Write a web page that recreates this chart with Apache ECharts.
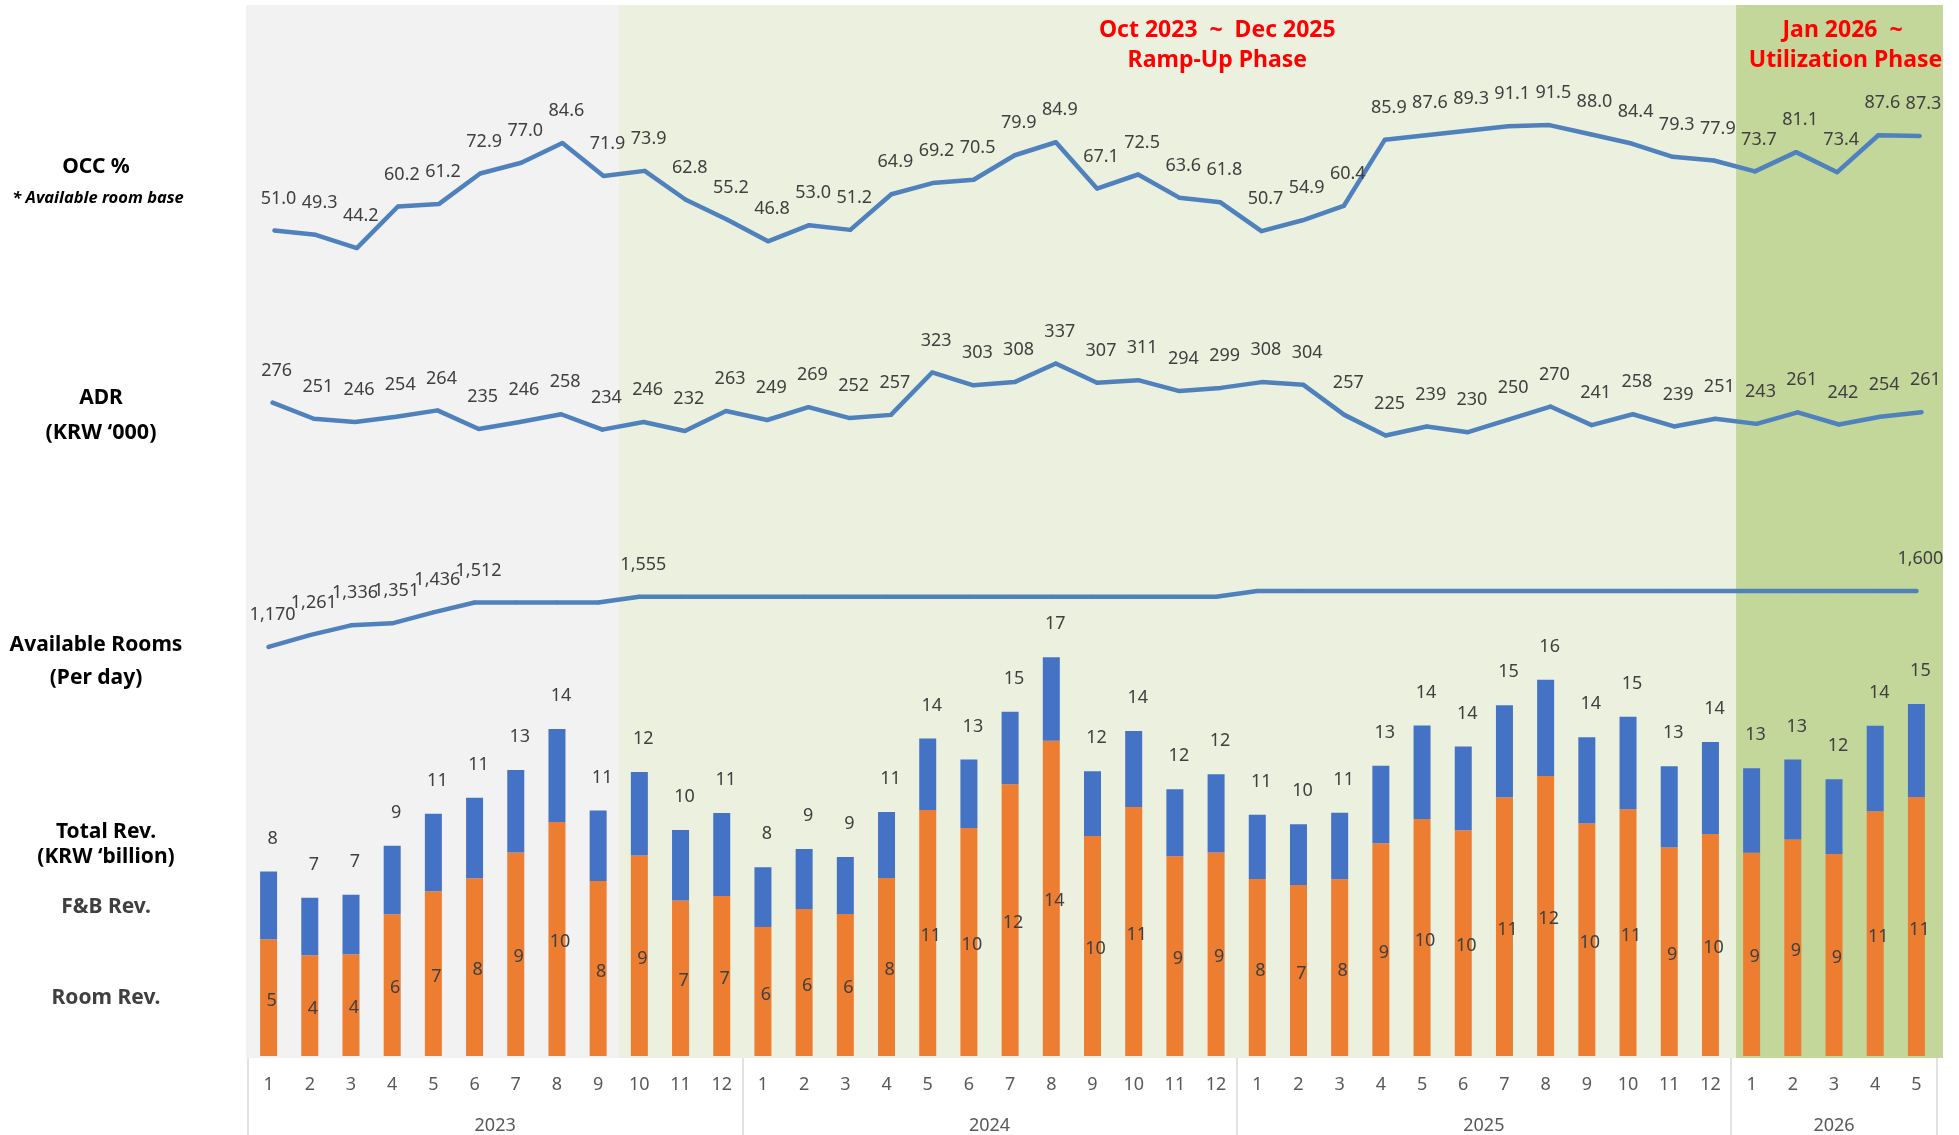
<!DOCTYPE html>
<html><head><meta charset="utf-8">
<script src="https://cdn.jsdelivr.net/npm/echarts@6/dist/echarts.min.js"></script>
<style>html,body{margin:0;padding:0;background:#fff}#c{width:1959px;height:1135px}</style>
</head><body><div id="c"></div>
<script>
// ---------- data ----------
const months = ['1','2','3','4','5','6','7','8','9','10','11','12',
                '1','2','3','4','5','6','7','8','9','10','11','12',
                '1','2','3','4','5','6','7','8','9','10','11','12',
                '1','2','3','4','5'];
const years = ['2023','2024','2025','2026'];
const yearStarts = [0, 12, 24, 36];
const yearEnds = [12, 24, 36, 41];

const occ = [51.0,49.3,44.2,60.2,61.2,72.9,77.0,84.6,71.9,73.9,62.8,55.2,
             46.8,53.0,51.2,64.9,69.2,70.5,79.9,84.9,67.1,72.5,63.6,61.8,
             50.7,54.9,60.4,85.9,87.6,89.3,91.1,91.5,88.0,84.4,79.3,77.9,
             73.7,81.1,73.4,87.6,87.3];
const adr = [276,251,246,254,264,235,246,258,234,246,232,263,
             249,269,252,257,323,303,308,337,307,311,294,299,
             308,304,257,225,239,230,250,270,241,258,239,251,
             243,261,242,254,261];
const availRooms = [1170,1261,1336,1351,1436,1512,1512,1512,1512,1555,1555,1555,
             1555,1555,1555,1555,1555,1555,1555,1555,1555,1555,1555,1555,
             1600,1600,1600,1600,1600,1600,1600,1600,1600,1600,1600,1600,
             1600,1600,1600,1600,1600];
const availRoomsLabelIdx = [0,1,2,3,4,5,9,40];
const roomRev = [5.11,4.41,4.45,6.20,7.21,7.78,8.91,10.24,7.66,8.78,6.81,7.00,
                 5.65,6.43,6.21,7.79,10.77,9.98,11.89,13.80,9.63,10.90,8.74,8.91,
                 7.75,7.48,7.73,9.31,10.37,9.88,11.32,12.25,10.18,10.80,9.13,9.72,
                 8.90,9.48,8.84,10.71,11.33];
const fnbRev = [2.96,2.52,2.61,3.00,3.39,3.52,3.61,4.07,3.08,3.65,3.08,3.63,
                2.61,2.63,2.50,2.89,3.12,3.00,3.18,3.65,2.83,3.32,2.93,3.42,
                2.81,2.66,2.92,3.39,4.09,3.66,4.03,4.22,3.77,4.05,3.55,4.02,
                3.69,3.50,3.27,3.74,4.07];
const phaseStarts = [0, 9, 36];
const phaseEnds = [9, 36, 41];
const phaseLabels = ['', 'Oct 2023  ~  Dec 2025\nRamp-Up Phase', 'Jan 2026  ~ \nUtilization Phase'];

// ---------- styling ----------
const FONT = '"Noto Sans", "DejaVu Sans", sans-serif';
const LINE_C = '#4F81BD';
const LBL_C = '#404040';
const LBL_OFF = [4, 0];
const phaseColors = ['#F2F2F2', '#EBF1DE', '#C4D79B'];
const phaseLabelOffsets = [[0,0],[40,0],[6,0]];

const chart = echarts.init(document.getElementById('c'), null, {renderer:'canvas'});

const lineLabel = (fmt) => ({
  show: true, position: 'top', distance: 21, fontSize: 18, lineHeight: 18, offset: LBL_OFF,
  color: LBL_C, fontFamily: FONT, formatter: fmt
});
const lineSeries = (name, data, idx, fmt) => ({
  name, type: 'line', data, xAxisIndex: idx, yAxisIndex: idx,
  symbol: 'circle', symbolSize: 4, showSymbol: true,
  itemStyle: {color: LINE_C}, lineStyle: {color: LINE_C, width: 4.5, cap: 'round', join: 'round'},
  label: lineLabel(fmt), z: 5, animation: false
});

const yearCenters = yearStarts.map((s, i) => (s + yearEnds[i]) / 2);
const yearBounds = [yearStarts[0]].concat(yearEnds);

const hiddenCat = (g) => ({type:'category', gridIndex:g, data:months, show:false, boundaryGap:true});

const option = {
  animation: false,
  backgroundColor: '#ffffff',
  textStyle: {fontFamily: FONT},
  grid: [
    {left: 254, width: 1686, top: 103, height: 260},
    {left: 252, width: 1690, top: 323, height: 257},
    {left: 248, width: 1689, top: 539, height: 260},
    {left: 248, width: 1689, top: 599, height: 457},
    {left: 246, width: 1697, top: 5, height: 1053}
  ],
  xAxis: [
    hiddenCat(0), hiddenCat(1), hiddenCat(2),
    {type:'category', gridIndex:3, data:months, boundaryGap:true,
     axisLine:{show:true, lineStyle:{color:'#D9D9D9', width:1.5}},
     axisTick:{show:false},
     axisLabel:{fontSize:18, color:'#595959', fontFamily:FONT, margin:20, interval:0}},
    {type:'value', gridIndex:3, min:0, max:41, position:'bottom',
     axisLine:{show:false}, splitLine:{show:false},
     axisTick:{show:true, customValues: yearBounds, length:79, lineStyle:{color:'#D9D9D9', width:1.5}},
     axisLabel:{show:true, customValues: yearCenters, fontSize:18, color:'#595959', fontFamily:FONT, margin:61,
       formatter: (v) => { const i = yearCenters.indexOf(v); return i >= 0 ? years[i] : ''; }}},
    {type:'value', gridIndex:4, min:0, max:41, show:false}
  ],
  yAxis: [
    {type:'value', gridIndex:0, min:0, max:100, show:false},
    {type:'value', gridIndex:1, min:0, max:400, show:false},
    {type:'value', gridIndex:2, min:0, max:2000, show:false},
    {type:'value', gridIndex:3, min:0, max:20, show:false},
    {type:'value', gridIndex:4, min:0, max:1, show:false}
  ],
  series: [
    {name:'phases', type:'line', xAxisIndex:5, yAxisIndex:4, data:[], z:0, silent:true,
     markArea: {silent:true, data: phaseStarts.map((s, i) => [
       {xAxis: s, itemStyle:{color: phaseColors[i]},
        label:{show: !!phaseLabels[i], position:'insideTop', distance:10, offset: phaseLabelOffsets[i],
               formatter: phaseLabels[i], color:'#FF0000', fontWeight:'bold', fontSize:23,
               lineHeight:30, fontFamily:FONT, align:'center'}},
       {xAxis: phaseEnds[i]}
     ])}},
    lineSeries('OCC %', occ, 0, p => p.value.toFixed(1)),
    lineSeries('ADR', adr, 1, p => String(p.value)),
    lineSeries('Available Rooms', availRooms, 2,
      p => availRoomsLabelIdx.includes(p.dataIndex) ? p.value.toLocaleString('en-US') : ''),
    {name:'Room Rev.', type:'bar', stack:'rev', xAxisIndex:3, yAxisIndex:3, data:roomRev,
     barWidth:17, itemStyle:{color:'#ED7D31'}, z:4,
     label:{show:true, position:'inside', offset:[3, 3], fontSize:18, color:LBL_C, fontFamily:FONT,
            formatter: p => String(Math.round(p.value))}},
    {name:'F&B Rev.', type:'bar', stack:'rev', xAxisIndex:3, yAxisIndex:3, data:fnbRev,
     barWidth:17, itemStyle:{color:'#4472C4'}, z:4,
     label:{show:true, position:'top', distance:24, offset:LBL_OFF, fontSize:18, lineHeight:18, color:LBL_C, fontFamily:FONT,
            formatter: p => String(Math.round(roomRev[p.dataIndex] + fnbRev[p.dataIndex]))}}
  ],
  graphic: [
    ['OCC %', 96, 167, 21, 'bold', 'normal', '#000'],
    ['* Available room base', 98, 198, 16.5, 'bold', 'italic', '#000'],
    ['ADR', 101, 398, 21, 'bold', 'normal', '#000'],
    ['(KRW \u2018000)', 101, 433, 21.5, 'bold', 'normal', '#000'],
    ['Available Rooms', 96, 645, 21, 'bold', 'normal', '#000'],
    ['(Per day)', 96, 678, 21, 'bold', 'normal', '#000'],
    ['Total Rev.', 106, 832, 21, 'bold', 'normal', '#000'],
    ['(KRW \u2018billion)', 106, 857, 21, 'bold', 'normal', '#000'],
    ['F&B Rev.', 106, 907, 21, 'bold', 'normal', '#3F3F3F'],
    ['Room Rev.', 106, 998, 21, 'bold', 'normal', '#3F3F3F']
  ].map(([t, x, y, fs, fw, fst, col]) => ({
    type:'text', x, y, silent:true,
    style:{text:t, fontSize:fs, fontWeight:fw, fontStyle:fst, fontFamily:FONT, fill:col,
           align:'center', verticalAlign:'middle'}
  }))
};
chart.setOption(option);
</script>
</body></html>
